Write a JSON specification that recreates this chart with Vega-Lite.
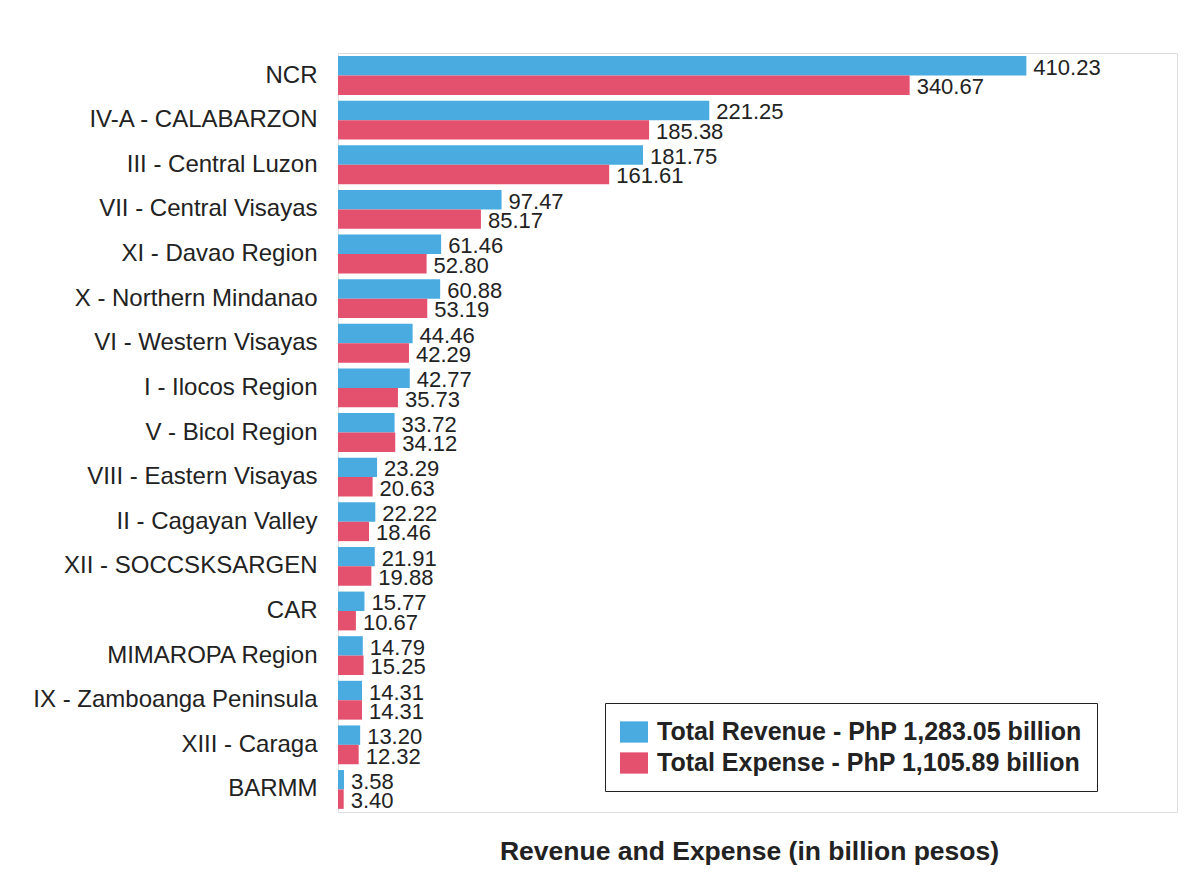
{
  "$schema": "https://vega.github.io/schema/vega-lite/v6.json",
  "width": 839,
  "height": 759,
  "autosize": {"type": "none"},
  "padding": {"left": 338, "top": 53, "right": 12, "bottom": 62},
  "background": "white",
  "config": {
    "font": "Liberation Sans",
    "view": {"stroke": "#dedede", "strokeWidth": 1}
  },
  "data": {
    "values": [
      {"region": "NCR", "series": "Total Revenue - PhP 1,283.05 billion", "value": 410.23},
      {"region": "NCR", "series": "Total Expense - PhP 1,105.89 billion", "value": 340.67},
      {"region": "IV-A - CALABARZON", "series": "Total Revenue - PhP 1,283.05 billion", "value": 221.25},
      {"region": "IV-A - CALABARZON", "series": "Total Expense - PhP 1,105.89 billion", "value": 185.38},
      {"region": "III - Central Luzon", "series": "Total Revenue - PhP 1,283.05 billion", "value": 181.75},
      {"region": "III - Central Luzon", "series": "Total Expense - PhP 1,105.89 billion", "value": 161.61},
      {"region": "VII - Central Visayas", "series": "Total Revenue - PhP 1,283.05 billion", "value": 97.47},
      {"region": "VII - Central Visayas", "series": "Total Expense - PhP 1,105.89 billion", "value": 85.17},
      {"region": "XI - Davao Region", "series": "Total Revenue - PhP 1,283.05 billion", "value": 61.46},
      {"region": "XI - Davao Region", "series": "Total Expense - PhP 1,105.89 billion", "value": 52.80},
      {"region": "X - Northern Mindanao", "series": "Total Revenue - PhP 1,283.05 billion", "value": 60.88},
      {"region": "X - Northern Mindanao", "series": "Total Expense - PhP 1,105.89 billion", "value": 53.19},
      {"region": "VI - Western Visayas", "series": "Total Revenue - PhP 1,283.05 billion", "value": 44.46},
      {"region": "VI - Western Visayas", "series": "Total Expense - PhP 1,105.89 billion", "value": 42.29},
      {"region": "I - Ilocos Region", "series": "Total Revenue - PhP 1,283.05 billion", "value": 42.77},
      {"region": "I - Ilocos Region", "series": "Total Expense - PhP 1,105.89 billion", "value": 35.73},
      {"region": "V - Bicol Region", "series": "Total Revenue - PhP 1,283.05 billion", "value": 33.72},
      {"region": "V - Bicol Region", "series": "Total Expense - PhP 1,105.89 billion", "value": 34.12},
      {"region": "VIII - Eastern Visayas", "series": "Total Revenue - PhP 1,283.05 billion", "value": 23.29},
      {"region": "VIII - Eastern Visayas", "series": "Total Expense - PhP 1,105.89 billion", "value": 20.63},
      {"region": "II - Cagayan Valley", "series": "Total Revenue - PhP 1,283.05 billion", "value": 22.22},
      {"region": "II - Cagayan Valley", "series": "Total Expense - PhP 1,105.89 billion", "value": 18.46},
      {"region": "XII - SOCCSKSARGEN", "series": "Total Revenue - PhP 1,283.05 billion", "value": 21.91},
      {"region": "XII - SOCCSKSARGEN", "series": "Total Expense - PhP 1,105.89 billion", "value": 19.88},
      {"region": "CAR", "series": "Total Revenue - PhP 1,283.05 billion", "value": 15.77},
      {"region": "CAR", "series": "Total Expense - PhP 1,105.89 billion", "value": 10.67},
      {"region": "MIMAROPA Region", "series": "Total Revenue - PhP 1,283.05 billion", "value": 14.79},
      {"region": "MIMAROPA Region", "series": "Total Expense - PhP 1,105.89 billion", "value": 15.25},
      {"region": "IX - Zamboanga Peninsula", "series": "Total Revenue - PhP 1,283.05 billion", "value": 14.31},
      {"region": "IX - Zamboanga Peninsula", "series": "Total Expense - PhP 1,105.89 billion", "value": 14.31},
      {"region": "XIII - Caraga", "series": "Total Revenue - PhP 1,283.05 billion", "value": 13.20},
      {"region": "XIII - Caraga", "series": "Total Expense - PhP 1,105.89 billion", "value": 12.32},
      {"region": "BARMM", "series": "Total Revenue - PhP 1,283.05 billion", "value": 3.58},
      {"region": "BARMM", "series": "Total Expense - PhP 1,105.89 billion", "value": 3.40}
    ]
  },
  "encoding": {
    "y": {
      "field": "region",
      "type": "nominal",
      "sort": null,
      "scale": {"paddingInner": 0.13, "paddingOuter": 0.07},
      "axis": {
        "title": null,
        "ticks": false,
        "domain": false,
        "labelFontSize": 24,
        "labelColor": "#222222",
        "labelPadding": 21,
        "labelLimit": 400
      }
    },
    "yOffset": {
      "field": "series",
      "type": "nominal",
      "sort": ["Total Revenue - PhP 1,283.05 billion", "Total Expense - PhP 1,105.89 billion"],
      "scale": {"paddingInner": 0, "paddingOuter": 0}
    },
    "x": {
      "field": "value",
      "type": "quantitative",
      "scale": {"domain": [0, 500], "nice": false},
      "axis": {
        "title": "Revenue and Expense (in billion pesos)",
        "labels": false,
        "ticks": false,
        "domain": false,
        "grid": false,
        "titleFontSize": 26.5,
        "titleFontWeight": "bold",
        "titleColor": "#222222",
        "titlePadding": 26,
        "titleX": 411,
        "titleAlign": "center"
      }
    }
  },
  "layer": [
    {
      "mark": {"type": "bar"},
      "encoding": {
        "color": {
          "field": "series",
          "type": "nominal",
          "scale": {
            "domain": ["Total Revenue - PhP 1,283.05 billion", "Total Expense - PhP 1,105.89 billion"],
            "range": ["#4AABE1", "#E4516F"]
          },
          "legend": {
            "title": null,
            "orient": "none",
            "legendX": 267,
            "legendY": 650,
            "direction": "vertical",
            "labelFontSize": 25,
            "labelFontWeight": "bold",
            "labelColor": "#222222",
            "labelLimit": 600,
            "labelOffset": 9,
            "symbolType": "M-1,-0.76L1,-0.76L1,0.76L-1,0.76Z",
            "symbolSize": 784,
            "symbolStrokeWidth": 0,
            "rowPadding": 4,
            "padding": 15,
            "strokeColor": "#222222",
            "fillColor": "white"
          }
        }
      }
    },
    {
      "mark": {"type": "text", "align": "left", "baseline": "middle", "dx": 7, "dy": 2, "fontSize": 22, "color": "#222222"},
      "encoding": {
        "text": {"field": "value", "type": "quantitative", "format": ".2f"}
      }
    }
  ]
}
